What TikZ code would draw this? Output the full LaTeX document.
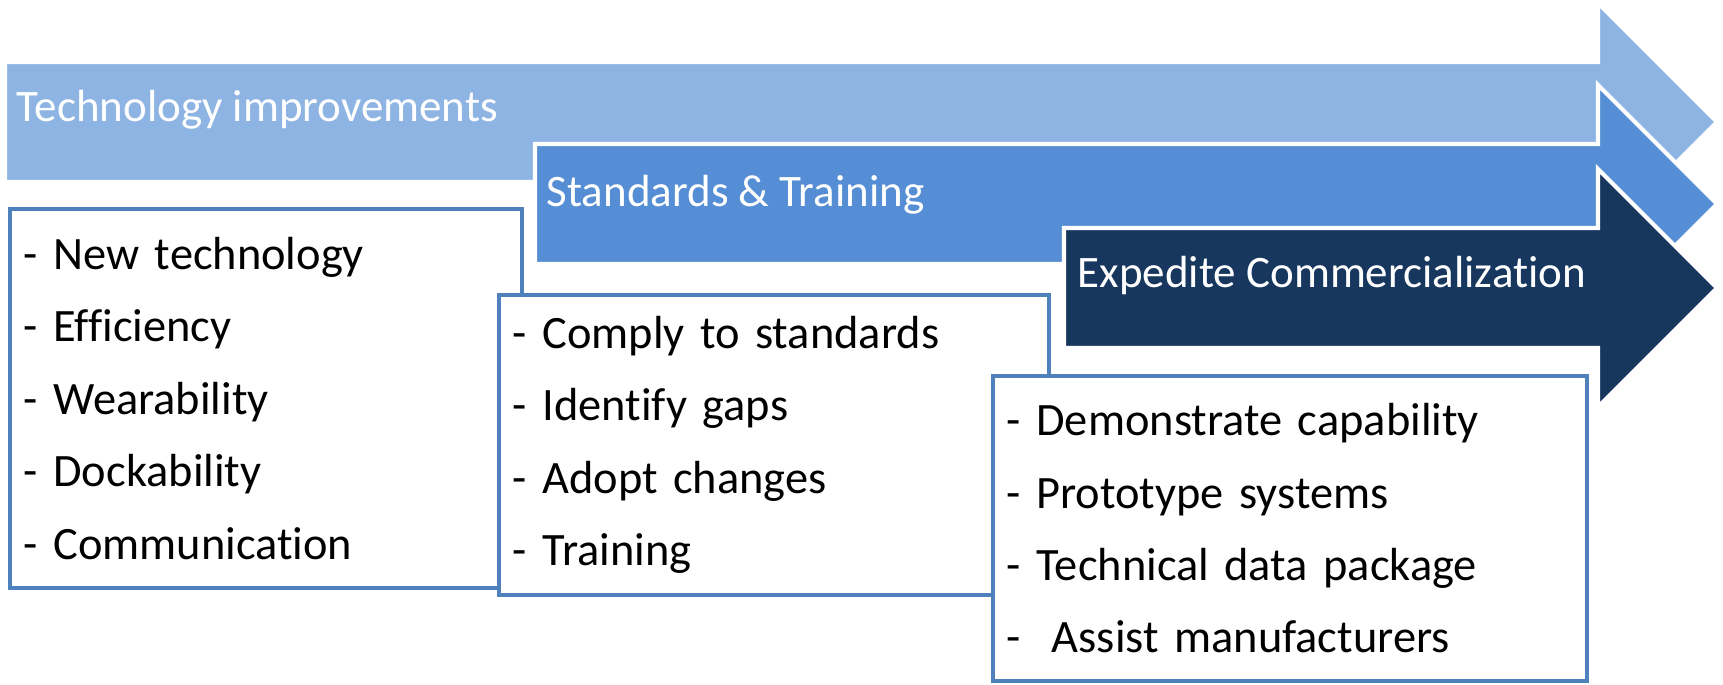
\documentclass[tikz,border=0pt]{standalone}
\usepackage{fontspec}
\setmainfont{Carlito}[Ligatures=NoCommon]
\usetikzlibrary{positioning}
\definecolor{techblue}{HTML}{8EB4E3}
\definecolor{stdblue}{HTML}{558ED5}
\definecolor{comnavy}{HTML}{17375E}
\definecolor{boxline}{HTML}{4F81BD}

\begin{document}
\begin{tikzpicture}[x=0.01cm,y=-0.01cm,
    band/.style={draw=white,line width=1.2pt,line join=miter},
    head/.style={anchor=base west,inner sep=0pt,text=white,font=\fontsize{12.8}{15}\selectfont},
    list/.style={draw=boxline,line width=1pt,fill=white,anchor=north west,align=left,
                 inner xsep=0.14cm,inner ysep=0pt,font=\fontsize{13.2}{20.6}\selectfont}]
		\useasboundingbox (0,0) rectangle (1723,684);
		% the three arrows, back to front
		\filldraw[band,fill=techblue] (5,62) -- (1598,62) -- (1598,3) -- (1717,122)
		      -- (1598,241) -- (1598,182) -- (5,182) -- cycle;
		\filldraw[band,fill=stdblue] (535,144) -- (1598,144) -- (1598,85) -- (1717,204)
		      -- (1598,323) -- (1598,264) -- (535,264) -- cycle;
		\filldraw[band,fill=comnavy] (1064,228) -- (1598,228) -- (1598,169) -- (1717,288)
		      -- (1598,407) -- (1598,348) -- (1064,348) -- cycle;
		\node[head] (techhead) at (16,121)   {Technology improvements};
		\node[head] (stdhead)  at (546,206)  {Standards \& Training};
		\node[head] (comhead)  at (1077,287) {Expedite Commercialization};
		% the lists
		\node[list,text width=4.84cm,minimum height=3.79cm] (techlist) at (8,207)
		      {- New technology\\- Efficiency\\- Wearability\\- Dockability\\- Communication};
		\node[list,text width=5.22cm,minimum height=3.00cm] (stdlist)  at (497,293)
		      {- Comply to standards\\- Identify gaps\\- Adopt changes\\- Training};
		\node[list,text width=5.66cm,minimum height=3.05cm] (comlist)  at (991,374)
		      {- Demonstrate capability\\- Prototype systems\\- Technical data package\\-\ \ Assist manufacturers};
\end{tikzpicture}
\end{document}
